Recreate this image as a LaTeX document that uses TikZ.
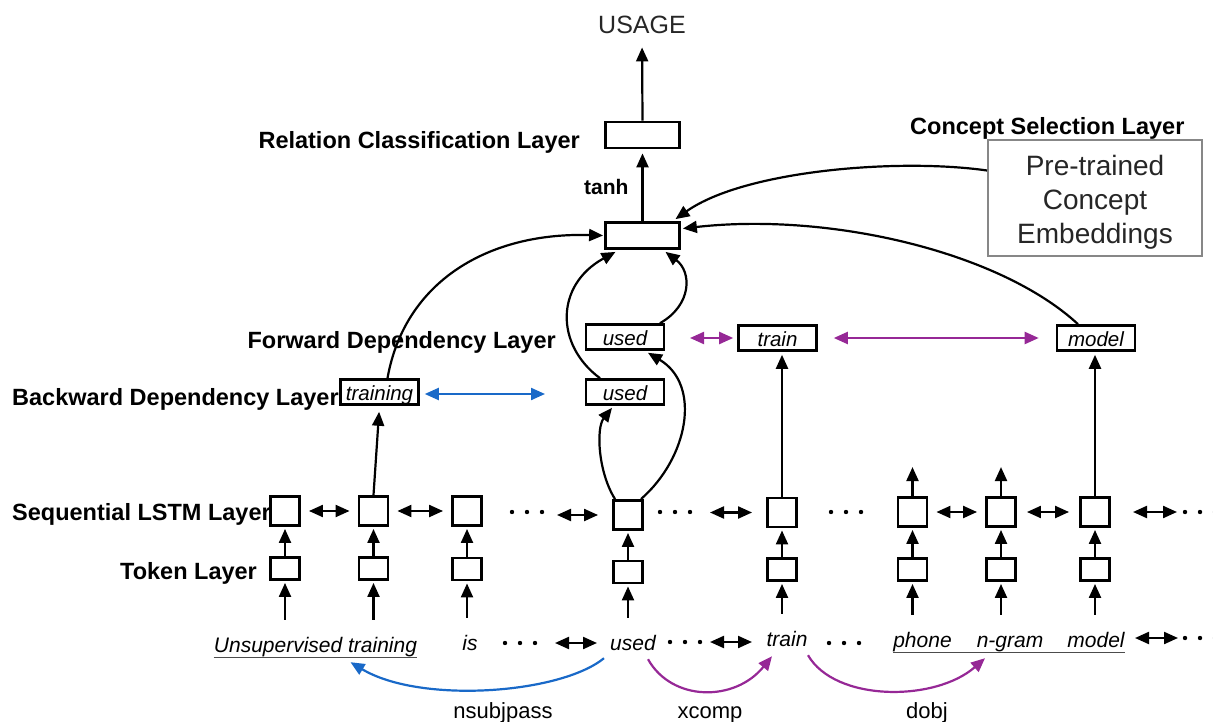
\documentclass[tikz,border=0pt]{standalone}
\usepackage{fontspec}
\setmainfont{Liberation Sans}
\usetikzlibrary{arrows.meta}

\definecolor{depblue}{RGB}{25,105,200}
\definecolor{deppurple}{RGB}{150,40,150}
\definecolor{framegray}{RGB}{135,135,135}

\begin{document}
\begin{tikzpicture}[x=1pt,y=-1pt,
  layerlbl/.style={inner sep=0pt, font=\fontsize{23.5}{27}\selectfont\bfseries},
  cell/.style={draw, line width=2.9pt, fill=white, minimum width=29pt, minimum height=29pt, inner sep=0pt},
  tokcell/.style={cell, minimum height=22pt},
  vecbox/.style={draw, line width=2.8pt, fill=white, minimum width=74pt, minimum height=26pt, inner sep=0pt},
  depbox/.style={draw, line width=2.6pt, fill=white, minimum width=78pt, minimum height=25pt, inner sep=0pt,
    font=\fontsize{20.5}{24}\selectfont\itshape, text height=16pt, text depth=0pt},
  word/.style={inner sep=0pt, anchor=base, font=\fontsize{21}{25}\selectfont\itshape, text height=15pt, text depth=5pt},
  deplbl/.style={inner sep=0pt, anchor=base, font=\fontsize{22}{26}\selectfont},
  arr/.style={line width=2.2pt, -{Triangle[length=14pt,width=12pt]}},
  dbl/.style={line width=2.2pt, {Triangle[length=14pt,width=12pt]}-{Triangle[length=14pt,width=12pt]}},
  dotmark/.style={fill=black}
]
\useasboundingbox (0,0) rectangle (1213,722);

% ---------- layer labels ----------
\node[layerlbl, anchor=base east] (lblrel) at (580,149) {Relation Classification Layer};
\node[layerlbl, anchor=base west] (lblcsl) at (910,135) {Concept Selection Layer};
\node[inner sep=0pt, anchor=base west, font=\fontsize{21}{25}\selectfont\bfseries] (lbltanh) at (584,195) {tanh};
\node[layerlbl, anchor=base east] (lblfwd) at (556,348) {Forward Dependency Layer};
\node[layerlbl, anchor=base west] (lblbwd) at (12,405) {Backward Dependency Layer};
\node[layerlbl, anchor=base west] (lblseq) at (12,520) {Sequential LSTM Layer};
\node[layerlbl, anchor=base west] (lbltok) at (120,579) {Token Layer};

% ---------- output and classification ----------
\node[inner sep=0pt, anchor=base, font=\fontsize{25}{28}\selectfont, text=black!85] (usage) at (642,34) {USAGE};
\node[vecbox] (rel) at (642.5,135) {};
\node[vecbox] (hid) at (642.5,235.5) {};

% ---------- concept embeddings ----------
\node[draw=framegray, line width=2pt, minimum width=214pt, minimum height=116pt, inner sep=0pt] (emb) at (1095,198.5) {};
\node[inner sep=0pt, align=center, font=\fontsize{28}{34}\selectfont, text=black!85] (embtxt) at (1095,202)
  {Pre-trained\\Concept\\Embeddings};

% ---------- dependency layers ----------
\node[depbox] (trn) at (379.5,392) {training};
\node[depbox] (ub) at (625,392) {used};
\node[depbox] (uf) at (625,337) {used};
\node[depbox] (trf) at (777.5,338) {train};
\node[depbox] (mdl) at (1096,338) {model};

% ---------- sequential LSTM cells and token cells ----------
\foreach \n/\x/\ly/\ty in {1/285/511/568.5, 2/373.5/511/568.5, 3/467/511/569, 4/628/515/572,
                           5/782/512.5/569.5, 6/912.5/512/569.5, 7/1001/512/569.5, 8/1095/512/569.5} {
  \node[cell] (l\n) at (\x,\ly) {};
  \node[tokcell] (t\n) at (\x,\ty) {};
}

% ---------- words ----------
\node[word] (uw) at (315.5,652) {Unsupervised training};
\node[word] (wis) at (470,650) {is};
\node[word] (wused) at (633,650) {used};
\node[word] (wtrain) at (787,646) {train};
\node[word] (wph) at (922.5,647) {phone};
\node[word] (wng) at (1010,647) {n-gram};
\node[word] (wmo) at (1096,647) {model};
\draw[line width=1.3pt, black!70] (uw.south west) -- (uw.south east);
\draw[line width=1.3pt, black!70] (wph.south west) -- (wmo.south east);

% ---------- ellipses ----------
\foreach \x/\y in {512/512, 660/512, 831/512, 1185/512, 505/643, 670/642, 829/643, 1185/638} {
  \foreach \k in {0,1,2} \fill[dotmark] (\x+\k*15,\y) circle (2.2);
}

% ---------- word -> token -> LSTM ----------
\foreach \n/\w in {1/uw, 2/uw, 3/wis, 4/wused, 5/wtrain, 6/wph, 7/wng, 8/wmo} {
  \draw[arr, shorten <=17pt, shorten >=2pt] (t\n |- \w.north) -- (t\n.south);
  \draw[arr, shorten >=2pt] (t\n.north) -- (l\n.south);
}

% ---------- LSTM row connections ----------
\coordinate (sa1) at (557,515); \coordinate (sb1) at (710,512.5);
\coordinate (sa2) at (1133,512); \coordinate (sb2) at (1177,512);
\draw[dbl, shorten <=8pt, shorten >=8pt] (l1) -- (l2);
\draw[dbl, shorten <=8pt, shorten >=8pt] (l2) -- (l3);
\draw[dbl, shorten >=14pt] (sa1) -- (sa1 -| l4.west);
\draw[dbl, shorten >=14pt] (sb1) -- (sb1 -| l5.west);
\draw[dbl, shorten <=8pt, shorten >=8pt] (l6) -- (l7);
\draw[dbl, shorten <=10pt, shorten >=10pt] (l7) -- (l8);
\draw[dbl] (sa2) -- (sb2);

% ---------- word row connections ----------
\coordinate (wa1) at (555,643); \coordinate (wb1) at (597,643);
\coordinate (wa2) at (710,642); \coordinate (wb2) at (752,642);
\coordinate (wa3) at (1135,638); \coordinate (wb3) at (1178,638);
\draw[dbl] (wa1) -- (wb1);
\draw[dbl] (wa2) -- (wb2);
\draw[dbl] (wa3) -- (wb3);

% ---------- LSTM -> dependency layers ----------
\draw[arr, shorten >=6pt] (l2.north) -- (trn.south);
\draw[arr, shorten >=3pt] (l5.north) -- (l5.north |- trf.south);
\draw[arr, shorten >=3pt] (l8.north) -- (l8.north |- mdl.south);
\draw[arr] (l6.north) -- ++(0,-29);
\draw[arr] (l7.north) -- ++(0,-29);
\draw[arr] ([xshift=-13pt]l4.north) .. controls (598,472) and (596,428) .. ([xshift=-13pt,yshift=-2pt]ub.south);
\draw[arr] ([xshift=13pt]l4.north) .. controls (688,458) and (702,385) .. ([xshift=23pt,yshift=-2pt]uf.south);

% ---------- dependency-layer sequence links ----------
\coordinate (bl) at (545,394);
\coordinate (pl) at (690,338);
\draw[dbl, depblue, shorten <=5pt] (trn.east |- bl) -- (bl);
\draw[dbl, deppurple, shorten >=4pt] (pl) -- (pl -| trf.west);
\draw[dbl, deppurple, shorten <=16pt, shorten >=17pt] (trf.east) -- (mdl.west);

% ---------- into the hidden vector ----------
\draw[arr] ([xshift=8pt]trn.north) .. controls (405,280) and (490,232) .. ([xshift=-1pt]hid.west);
\draw[arr] ([xshift=-25pt]ub.north) .. controls (555,345) and (555,285) .. ([xshift=-27pt,yshift=-2pt]hid.south);
\draw[arr] ([xshift=35pt]uf.north) .. controls (692,305) and (692,272) .. ([xshift=23pt,yshift=-2pt]hid.south);
\draw[arr] ([xshift=-18pt]mdl.north) .. controls (1000,252) and (830,212) .. ([xshift=2pt,yshift=7pt]hid.east);
\draw[arr] ([yshift=28pt]emb.west) .. controls (900,158) and (745,170) .. ([xshift=33pt,yshift=2pt]hid.north);

% ---------- classification ----------
\draw[arr, shorten >=4pt] (hid.north) -- (rel.south);
\draw[arr, shorten >=13pt] (rel.north) -- (usage.south);

% ---------- dependency arcs ----------
\draw[line width=2.2pt, depblue, -{Triangle[length=14pt,width=12pt]}]
  ([xshift=-29pt,yshift=-3pt]wused.south) .. controls (560,694) and (420,704) .. ([xshift=35pt,yshift=-5pt]uw.south);
\draw[line width=2.2pt, deppurple, -{Triangle[length=14pt,width=12pt]}]
  ([xshift=15pt,yshift=-4pt]wused.south) .. controls (672,702) and (735,702) .. ([xshift=-15pt,yshift=-5pt]wtrain.south);
\draw[line width=2.2pt, deppurple, -{Triangle[length=14pt,width=12pt]}]
  ([xshift=21pt,yshift=-4pt]wtrain.south) .. controls (835,702) and (935,702) .. ([xshift=-25pt,yshift=-6pt]wng.south);

\node[deplbl] (dnsubj) at (503,718) {nsubjpass};
\node[deplbl] (dxcomp) at (710,718) {xcomp};
\node[deplbl] (ddobj) at (927,718) {dobj};
\end{tikzpicture}
\end{document}
